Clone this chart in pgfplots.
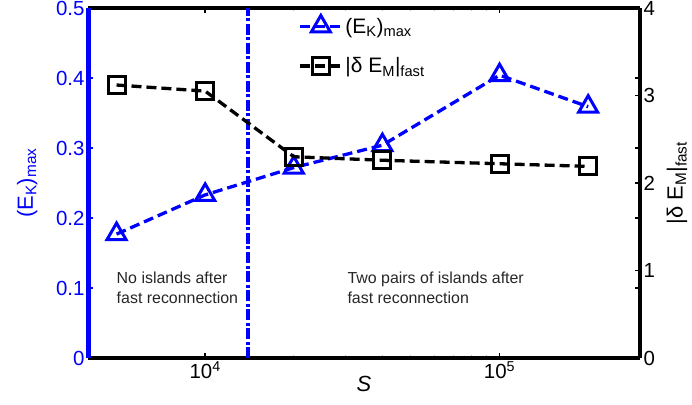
\documentclass[border=0pt]{standalone}
\usepackage{fontspec}
\setmainfont{Liberation Sans}
\usepackage{pgfplots}
\pgfplotsset{compat=1.18}
\definecolor{mblue}{RGB}{0,0,255}
\pgfplotstableread{
S EK
5000 0.177
10000 0.233
20000 0.272
40000 0.304
100000 0.404
200000 0.359
}\ekdata
\pgfplotstableread{
S dEM
5000 3.12
10000 3.05
20000 2.30
40000 2.26
100000 2.22
200000 2.19
}\emdata
\begin{document}
\begin{tikzpicture}
\begin{axis}[
  at={(0,0)}, anchor=south west,
  scale only axis, width=552bp, height=350bp,
  xmode=log, xmin=4000, xmax=3e5,
  separate axis lines,
  tick label style={font=\fontsize{20.5}{20.5}\selectfont},
  label style={font=\fontsize{22}{24}\selectfont},
  /pgf/number format/assume math mode=true,
  major tick length=5bp,
  clip=false,
  ymin=0, ymax=0.5,
  axis x line*=box, axis y line*=left,
  x axis line style={black, line width=3.5bp, -},
  y axis line style={mblue, line width=5bp, -},
  xtick={1e4,1e5}, xticklabels={10\textsuperscript{4},10\textsuperscript{5}},
  x tick style={black, line width=1.5bp},
  minor x tick style={gray!50, line width=1bp},
  minor tick length=3bp,
  ytick={0,0.1,0.2,0.3,0.4,0.5},
  yticklabels={0,0.1,0.2,0.3,0.4,0.5},
  y tick style={mblue, line width=1.5bp},
  y tick label style={mblue},
  ylabel={(E\textsubscript{K})\textsubscript{max}},
  ylabel style={mblue, at={(axis description cs:-0.11,0.5)}, anchor=center},
  xlabel={\textit{S}},
  xlabel style={at={(axis description cs:0.5,-0.075)}, anchor=center},
]
\addplot[mblue, line width=4bp, dash pattern=on 11bp off 2.5bp on 3bp off 2.5bp]
  coordinates {(14000,0) (14000,0.5)};
\addplot[mblue, line width=3.3bp, dash pattern=on 10bp off 5bp,
  mark=triangle, mark size=11bp, mark options={solid, line width=3bp}]
  table[x=S, y=EK] {\ekdata};
\node[anchor=west, align=left, inner sep=0pt, font=\fontsize{16}{19.5}\selectfont, text=black!85]
  at (axis cs:5000,0.1) {No islands after\\fast reconnection};
\node[anchor=west, align=left, inner sep=0pt, font=\fontsize{16}{19.5}\selectfont, text=black!85]
  at (axis cs:30400,0.1) {Two pairs of islands after\\fast reconnection};
\end{axis}
\begin{axis}[
  at={(0,0)}, anchor=south west,
  scale only axis, width=552bp, height=350bp,
  xmode=log, xmin=4000, xmax=3e5,
  separate axis lines,
  tick label style={font=\fontsize{20.5}{20.5}\selectfont},
  label style={font=\fontsize{22}{24}\selectfont},
  /pgf/number format/assume math mode=true,
  major tick length=5bp,
  clip=false,
  ymin=0, ymax=4,
  axis x line=none, axis y line*=right,
  y axis line style={black, line width=3.5bp, -},
  ytick={0,1,2,3,4},
  y tick style={black, line width=1.5bp},
  extra y ticks={0.8,1.6,2.4,3.2},
  extra y tick labels={},
  extra y tick style={tick style={mblue, line width=1.5bp}},
  ylabel={|δ E\textsubscript{M}|\textsubscript{fast}},
  ylabel style={at={(axis description cs:1.067,0.5)}, anchor=center},
  legend style={at={(rel axis cs:0.375,0.985)}, anchor=north west, draw=none, fill=none,
    font=\fontsize{21}{23}\selectfont, row sep=19bp},
  legend cell align=left,
  legend image code/.code={\draw[mark repeat=2,mark phase=2] plot coordinates {(0bp,0bp)(21bp,0bp)(42bp,0bp)};},
]
\addlegendimage{mblue, line width=3.3bp, dash pattern=on 10bp off 5bp,
  mark=triangle, mark size=11bp, mark options={solid, line width=3bp}}
\addlegendentry{(E\textsubscript{K})\textsubscript{max}}
\addplot[black, line width=3.3bp, dash pattern=on 10bp off 5bp,
  mark=square, mark size=8.5bp, mark options={solid, line width=3bp}]
  table[x=S, y=dEM] {\emdata};
\addlegendentry{|δ E\textsubscript{M}|\textsubscript{fast}}
\end{axis}
\pgfresetboundingbox
\path[use as bounding box] (-88bp,-47bp) rectangle (604bp,358bp);
\end{tikzpicture}
\end{document}
